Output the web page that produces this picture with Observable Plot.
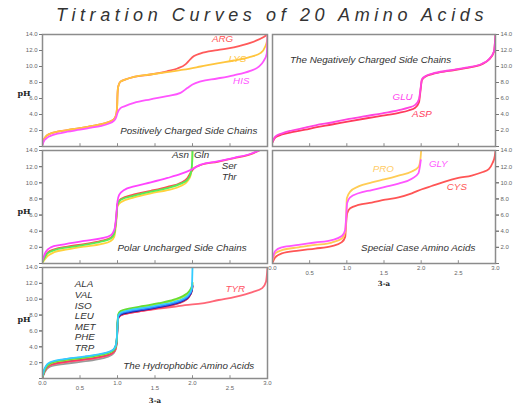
<!DOCTYPE html>
<html><head><meta charset="utf-8">
<script src="https://cdn.jsdelivr.net/npm/d3@7"></script>
<script src="https://cdn.jsdelivr.net/npm/@observablehq/plot@0.6"></script>
<style>
body{margin:0;background:#fff;}
#wrap{position:relative;width:521px;height:405px;overflow:hidden;font-family:"Liberation Sans",Arial,sans-serif;background:#fff;}
.title{position:absolute;left:0;width:544px;top:6px;line-height:18px;text-align:center;font-style:italic;font-size:18px;letter-spacing:4.6px;color:#333;white-space:nowrap;}
</style></head><body>
<div id="wrap"><div class="title">Titration Curves of 20 Amino Acids</div></div>
<script>
// ---------- data: [equivalents, pH] ----------
const yTicks = [0, 2, 4, 6, 8, 10, 12, 14];
const yLabelTicks = [2, 4, 6, 8, 10, 12, 14];
const xTickMarks = [0.5, 1, 1.5, 2, 2.5];
const xMajor = [0, 1, 2, 3];
const xMinor = [0.5, 1.5, 2.5];

// Positively charged
const ARG = [[0,0.3],[0.02,0.9],[0.05,1.3],[0.1,1.6],[0.2,1.85],[0.33,2.05],[0.5,2.3],[0.65,2.55],[0.77,2.75],[0.88,3.05],[0.95,3.4],[0.98,3.9],[0.995,5.0],[1.0,6.5],[1.01,7.5],[1.04,8.1],[1.1,8.35],[1.22,8.7],[1.44,9.0],[1.66,9.4],[1.8,9.75],[1.91,10.3],[1.97,10.9],[2.02,11.3],[2.11,11.65],[2.33,12.05],[2.55,12.4],[2.77,12.95],[2.95,13.7],[3.0,14.0]];
const LYS = [[0,0.3],[0.02,0.9],[0.05,1.3],[0.1,1.6],[0.2,1.85],[0.33,2.05],[0.5,2.3],[0.65,2.55],[0.77,2.75],[0.88,3.05],[0.95,3.4],[0.98,3.9],[0.995,5.0],[1.0,6.5],[1.01,7.5],[1.04,8.1],[1.1,8.35],[1.22,8.7],[1.44,9.0],[1.66,9.3],[1.88,9.6],[2.11,10.0],[2.33,10.4],[2.55,10.75],[2.77,11.2],[2.91,11.7],[2.97,12.5],[2.995,13.3],[3.0,14.0]];
const HIS = [[0,0.2],[0.02,0.7],[0.05,1.0],[0.1,1.3],[0.2,1.6],[0.33,1.85],[0.5,2.1],[0.65,2.35],[0.77,2.55],[0.88,2.85],[0.95,3.2],[0.98,3.6],[1.0,4.2],[1.04,4.8],[1.1,5.05],[1.22,5.45],[1.44,5.9],[1.66,6.3],[1.84,6.7],[1.93,7.3],[2.0,7.75],[2.11,8.15],[2.33,8.5],[2.55,8.9],[2.77,9.45],[2.88,9.95],[2.95,10.7],[2.99,11.6],[3.0,14.0]];

// Negatively charged
const ASP = [[0,0.5],[0.02,0.9],[0.04,1.15],[0.13,1.5],[0.26,1.8],[0.44,2.1],[0.58,2.4],[0.8,2.75],[1.03,3.15],[1.25,3.5],[1.48,3.85],[1.7,4.2],[1.83,4.5],[1.92,4.85],[1.97,5.5],[1.99,6.9],[2.01,8.3],[2.06,8.75],[2.15,9.05],[2.37,9.45],[2.6,9.8],[2.82,10.3],[2.91,10.85],[2.98,11.85],[3.0,14.0]];
const GLU = [[0,0.6],[0.02,1.0],[0.04,1.25],[0.13,1.65],[0.26,2.0],[0.44,2.35],[0.58,2.65],[0.8,3.0],[1.03,3.45],[1.25,3.8],[1.48,4.15],[1.7,4.55],[1.83,4.85],[1.92,5.2],[1.97,5.9],[1.99,7.1],[2.01,8.4],[2.06,8.8],[2.15,9.1],[2.37,9.5],[2.6,9.85],[2.82,10.35],[2.91,10.9],[2.98,11.9],[3.0,14.0]];

// Polar uncharged
const GLN = [[0,0.1],[0.067,0.9],[0.156,1.4],[0.333,1.75],[0.556,2.1],[0.778,2.4],[0.911,2.8],[0.956,3.3],[0.982,5.0],[1.0,7.1],[1.044,7.6],[1.222,8.2],[1.444,8.7],[1.667,9.1],[1.844,9.6],[1.933,10.2],[1.978,11.0],[1.995,12.4],[2.0,14.0]];
const THR = [[0,0.25],[0.067,1.35],[0.156,1.75],[0.333,2.1],[0.556,2.4],[0.778,2.8],[0.911,3.2],[0.956,3.8],[0.982,5.5],[1.0,7.4],[1.044,8.0],[1.222,8.55],[1.444,9.0],[1.667,9.5],[1.844,10.0],[1.933,10.6],[1.978,11.3],[2.02,11.8],[2.111,12.2],[2.333,12.6],[2.556,13.05],[2.778,13.55],[2.889,14.0]];
const ASN = [[0,0.2],[0.067,1.25],[0.156,1.65],[0.333,2.0],[0.556,2.3],[0.778,2.7],[0.911,3.1],[0.956,3.7],[0.982,5.4],[1.0,7.3],[1.044,7.9],[1.222,8.4],[1.444,8.9],[1.667,9.35],[1.844,9.9],[1.933,10.4],[1.978,11.2],[1.995,12.5],[2.0,14.0]];
const SER = [[0,0.4],[0.044,1.45],[0.111,2.0],[0.244,2.3],[0.556,2.8],[0.778,3.1],[0.911,3.5],[0.964,4.4],[0.982,5.8],[1.0,7.7],[1.022,8.5],[1.089,9.1],[1.222,9.55],[1.444,10.05],[1.667,10.6],[1.844,11.1],[1.978,11.6],[2.111,12.25],[2.333,12.65],[2.556,13.1],[2.778,13.6],[2.889,14.0]];

// Special cases
const CYS = [[0,0.1],[0.036,0.75],[0.126,1.25],[0.35,1.6],[0.574,1.85],[0.798,2.15],[0.933,2.65],[0.978,3.3],[0.991,5.0],[1.004,6.2],[1.045,6.85],[1.157,7.25],[1.336,7.55],[1.516,7.9],[1.695,8.2],[1.874,8.7],[2.01,9.2],[2.14,9.6],[2.32,10.15],[2.5,10.6],[2.68,10.9],[2.82,11.3],[2.91,11.7],[2.96,12.45],[2.99,13.3],[3.0,14.0]];
const PRO = [[0,0.4],[0.036,1.25],[0.126,1.65],[0.35,2.0],[0.574,2.3],[0.798,2.6],[0.933,3.1],[0.978,3.9],[0.991,5.8],[1.0,8.1],[1.045,8.9],[1.157,9.55],[1.336,10.05],[1.516,10.45],[1.695,10.9],[1.874,11.4],[1.964,11.95],[1.99,12.9],[2.0,14.0]];
const GLY = [[0,0.6],[0.036,1.55],[0.126,2.0],[0.35,2.3],[0.574,2.6],[0.798,2.9],[0.933,3.4],[0.978,4.15],[0.991,5.8],[1.004,7.5],[1.045,8.2],[1.157,8.7],[1.336,9.1],[1.516,9.5],[1.695,9.9],[1.874,10.5],[1.964,11.2],[1.995,12.8]];

// Hydrophobic
const TRP = [[0,0.1],[0.03,0.8],[0.1,1.5],[0.3,1.85],[0.55,2.15],[0.78,2.5],[0.92,2.95],[0.97,3.5],[0.99,4.5],[1.0,6.4],[1.01,7.6],[1.04,7.95],[1.15,8.3],[1.35,8.6],[1.55,8.95],[1.75,9.3],[1.88,9.75],[1.95,10.25],[1.99,11.0],[2.0,11.6]];
const TYR = [[0,0.15],[0.03,0.95],[0.1,1.65],[0.3,2.05],[0.55,2.35],[0.78,2.7],[0.92,3.1],[0.97,3.6],[0.99,4.6],[1.0,6.5],[1.01,7.6],[1.04,7.95],[1.15,8.25],[1.35,8.55],[1.55,8.8],[1.75,9.05],[1.9,9.25],[2.13,9.47],[2.35,9.9],[2.57,10.3],[2.8,10.9],[2.93,11.4],[2.98,12.2],[3.0,14.0]];
const PHE = [[0,0.15],[0.03,0.95],[0.1,1.7],[0.3,2.1],[0.55,2.4],[0.78,2.75],[0.92,3.15],[0.97,3.65],[0.99,4.6],[1.0,6.5],[1.01,7.6],[1.04,7.95],[1.15,8.25],[1.35,8.55],[1.55,8.9],[1.75,9.3],[1.88,9.75],[1.95,10.25],[1.99,11.0],[2.0,11.6]];
const ISO = [[0,0.2],[0.03,1.1],[0.1,1.85],[0.3,2.3],[0.55,2.6],[0.78,2.95],[0.92,3.35],[0.97,3.85],[0.99,4.8],[1.0,6.6],[1.01,7.7],[1.04,8.05],[1.15,8.35],[1.35,8.65],[1.55,9.0],[1.75,9.4],[1.88,9.85],[1.95,10.35],[1.99,11.1],[2.0,11.7]];
const VAL = [[0,0.25],[0.03,1.2],[0.1,1.95],[0.3,2.4],[0.55,2.7],[0.78,3.05],[0.92,3.45],[0.97,3.95],[0.99,4.9],[1.0,6.7],[1.01,7.8],[1.04,8.15],[1.15,8.45],[1.35,8.75],[1.55,9.1],[1.75,9.5],[1.88,9.95],[1.95,10.45],[1.99,11.2],[2.0,11.8]];
const MET = [[0,0.22],[0.03,1.1],[0.1,1.85],[0.3,2.3],[0.55,2.6],[0.78,2.95],[0.92,3.35],[0.97,3.85],[0.99,4.85],[1.0,6.9],[1.01,8.0],[1.04,8.4],[1.15,8.7],[1.35,9.05],[1.55,9.4],[1.75,9.85],[1.88,10.3],[1.95,10.8],[1.99,11.45],[2.0,11.95]];
const LEU = [[0,0.25],[0.03,1.15],[0.1,1.9],[0.3,2.35],[0.55,2.65],[0.78,3.0],[0.92,3.4],[0.97,3.9],[0.99,4.9],[1.0,6.9],[1.01,8.1],[1.04,8.5],[1.15,8.8],[1.35,9.15],[1.55,9.5],[1.75,9.95],[1.88,10.45],[1.95,10.95],[1.99,11.6],[2.0,12.1]];
const ALA = [[0,0.3],[0.03,1.3],[0.1,2.05],[0.3,2.45],[0.55,2.75],[0.78,3.1],[0.92,3.5],[0.97,4.0],[0.99,5.0],[1.0,6.8],[1.01,7.9],[1.04,8.3],[1.15,8.6],[1.35,8.9],[1.55,9.25],[1.75,9.65],[1.88,10.1],[1.95,10.6],[1.99,11.3],[2.0,14.0]];
const hydrophobicNames = ["ALA", "VAL", "ISO", "LEU", "MET", "PHE", "TRP"];

// ---------- drawing ----------
const FONT = '"Liberation Sans", Arial, sans-serif';
const wrap = document.getElementById("wrap");
const FRAME = "#8c8c8c";
const TXT = "#333";

function panel(cfg) {
  const {left, top, w, h, side, xaxis, series, labels, phDy} = cfg;
  const mL = side === "left" ? 44 : 4;
  const mR = side === "right" ? 28 : 4;
  const mT = 4;
  const mB = xaxis ? 40 : 4;
  const marks = [];
  for (const s of series) {
    marks.push(Plot.line(s.data, {x: d => d[0], y: d => d[1], stroke: s.color, strokeWidth: 1.8, curve: "monotone-x", clip: true}));
  }
  marks.push(Plot.frame({stroke: FRAME, strokeWidth: 1.5}));
  marks.push(Plot.ruleX(xTickMarks, {y1: 0, y2: 0.35, stroke: FRAME, strokeWidth: 1}));
  marks.push(Plot.axisY({anchor: side, ticks: yTicks, tickFormat: () => "", tickSize: 3, stroke: "#777", label: null}));
  marks.push(Plot.axisY({anchor: side, ticks: yLabelTicks, tickFormat: d3.format(".1f"), tickSize: 3, tickPadding: 2, fontSize: 6, fill: "#666", stroke: "#777", label: null}));
  if (side === "left") {
    marks.push(Plot.text(["pH"], {frameAnchor: "left", dx: -25, dy: phDy || 0, fontFamily: "DejaVu Serif, serif", fontWeight: "bold", fontSize: 8, fill: "#222"}));
  }
  if (xaxis) {
    marks.push(Plot.axisX({ticks: xMajor, tickFormat: d3.format(".1f"), tickSize: 0, tickPadding: 2, fontSize: 6, fill: "#666", label: null}));
    marks.push(Plot.axisX({ticks: xMinor, tickFormat: d3.format(".1f"), tickSize: 0, tickPadding: 7, fontSize: 6, fill: "#666", label: null}));
    marks.push(Plot.text(["3-a"], {frameAnchor: "bottom", dy: xaxis, fontFamily: "DejaVu Serif, serif", fontWeight: "bold", fontSize: 7, fill: "#222"}));
  }
  for (const l of labels) {
    marks.push(Plot.text([l.text], {x: l.x, y: l.y, fill: l.color || TXT, fontSize: 9.8, fontStyle: "italic", fontFamily: FONT, textAnchor: l.anchor || "middle"}));
  }
  const svg = Plot.plot({
    width: mL + w + mR, height: mT + h + mB,
    marginLeft: mL, marginRight: mR, marginTop: mT, marginBottom: mB,
    x: {domain: [0, 3], axis: xaxis ? undefined : null},
    y: {domain: [0, 14], axis: null},
    style: {background: "transparent", overflow: "visible", fontFamily: FONT},
    marks
  });
  svg.style.position = "absolute";
  svg.style.left = (left - mL) + "px";
  svg.style.top = (top - mT) + "px";
  svg.style.maxWidth = "none";
  wrap.appendChild(svg);
}

panel({left: 42, top: 34, w: 225, h: 112, side: "left", phDy: 3,
  series: [{data: ARG, color: "#ff5a5a"}, {data: LYS, color: "#ffc53d"}, {data: HIS, color: "#ff55ff"}],
  labels: [
    {text: "ARG", x: 2.4, y: 13.4, color: "#ff5555"},
    {text: "LYS", x: 2.6, y: 11.0, color: "#ffc53d"},
    {text: "HIS", x: 2.65, y: 8.25, color: "#ff55ff"},
    {text: "Positively Charged Side Chains", x: 1.95, y: 1.9}
  ]});

panel({left: 272, top: 34, w: 223, h: 112, side: "right",
  series: [{data: ASP, color: "#ff3a5c"}, {data: GLU, color: "#ff44e0"}],
  labels: [
    {text: "The Negatively Charged Side Chains", x: 1.32, y: 10.8},
    {text: "GLU", x: 1.75, y: 6.15, color: "#ff44ee"},
    {text: "ASP", x: 2.01, y: 4.1, color: "#ff3a5c"}
  ]});

panel({left: 42, top: 150, w: 225, h: 113, side: "left", phDy: 4,
  series: [{data: GLN, color: "#ffd23c"}, {data: THR, color: "#ff4d4d"}, {data: ASN, color: "#55ee55"}, {data: SER, color: "#ff44ff"}],
  labels: [
    {text: "Asn", x: 1.84, y: 13.4},
    {text: "Gln", x: 2.12, y: 13.4},
    {text: "Ser", x: 2.49, y: 12.15},
    {text: "Thr", x: 2.49, y: 10.7},
    {text: "Polar Uncharged Side Chains", x: 1.86, y: 1.95}
  ]});

panel({left: 272, top: 150, w: 223, h: 113, side: "right", xaxis: 22,
  series: [{data: CYS, color: "#ff5555"}, {data: PRO, color: "#ffcc55"}, {data: GLY, color: "#ff55ff"}],
  labels: [
    {text: "PRO", x: 1.49, y: 11.7, color: "#ffcc66"},
    {text: "GLY", x: 2.23, y: 12.35, color: "#ff55ff"},
    {text: "CYS", x: 2.48, y: 9.55, color: "#ff5555"},
    {text: "Special Case Amino Acids", x: 1.96, y: 1.95}
  ]});

panel({left: 42, top: 267, w: 225, h: 111, side: "left", xaxis: 24, phDy: -4,
  series: [{data: TRP, color: "#9a9a9a"}, {data: TYR, color: "#ff6677"}, {data: PHE, color: "#ff3366"},
           {data: ISO, color: "#22228a"}, {data: VAL, color: "#3366ff"}, {data: MET, color: "#ccee33"},
           {data: LEU, color: "#66dd33"}, {data: ALA, color: "#33ccff"}],
  labels: [
    ...hydrophobicNames.map((n, i) => ({text: n, x: 0.43, y: [11.94, 10.59, 9.2, 7.86, 6.56, 5.21, 3.9][i], anchor: "start"})),
    {text: "TYR", x: 2.57, y: 11.3, color: "#ff5566"},
    {text: "The Hydrophobic Amino Acids", x: 1.95, y: 1.64}
  ]});
</script>
</body></html>
